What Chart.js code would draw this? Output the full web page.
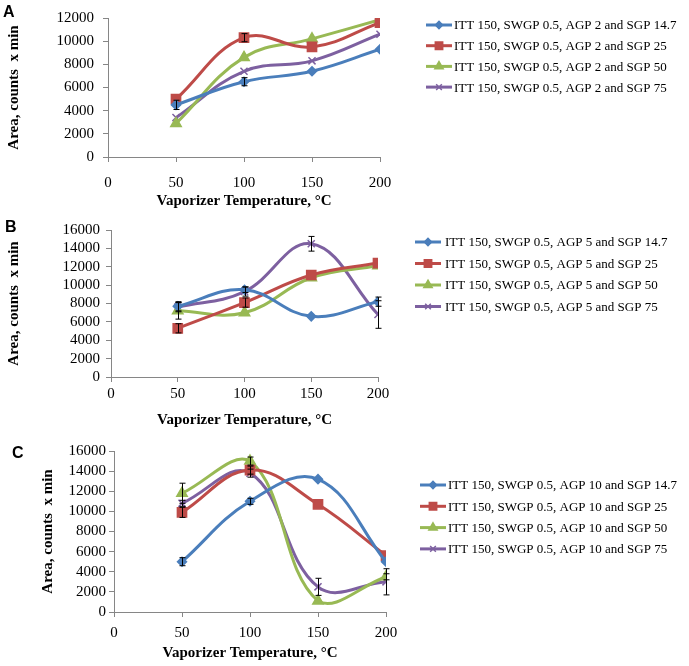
<!DOCTYPE html>
<html>
<head>
<meta charset="utf-8">
<script src="https://cdn.jsdelivr.net/npm/chart.js@4.4.1/dist/chart.umd.min.js"></script>
<style>
html, body { margin: 0; padding: 0; background: #fff; }
#wrap { position: relative; width: 689px; height: 666px; overflow: hidden; }
canvas { position: absolute; left: 0; }
</style>
</head>
<body>
<div id="wrap">
  <canvas id="cA" width="689" height="215" style="top:0px"></canvas>
  <canvas id="cB" width="689" height="215" style="top:215px"></canvas>
  <canvas id="cC" width="689" height="236" style="top:430px"></canvas>
</div>
<script>
// x values (vaporizer temperature, °C)
const temps = [50, 100, 150, 200];
const sgpLevels = ['14.7', '25', '50', '75'];

// Panel A : AGP 2
const areaA_sgp147 = [4500, 6500, 7400, 9300];
const areaA_sgp25  = [5000, 10300, 9500, 11600];
const areaA_sgp50  = [2900, 8600, 10200, 11850];
const areaA_sgp75  = [3400, 7400, 8300, 10600];
const errA_sgp147 = [400, 350, 0, 0];
const errA_sgp25  = [0, 350, 0, 0];
const errA_sgp50  = [0, 0, 0, 0];
const errA_sgp75  = [0, 0, 0, 0];

// Panel B : AGP 5
const areaB_sgp147 = [7700, 9500, 6600, 8200];
const areaB_sgp25  = [5300, 8100, 11100, 12400];
const areaB_sgp50  = [7200, 7000, 10800, 12100];
const areaB_sgp75  = [7600, 9300, 14500, 6800];
const errB_sgp147 = [500, 300, 0, 500];
const errB_sgp25  = [500, 500, 0, 0];
const errB_sgp50  = [900, 0, 0, 0];
const errB_sgp75  = [500, 500, 800, 1500];

// Panel C : AGP 10
const areaC_sgp147 = [5000, 11000, 13200, 5000];
const areaC_sgp25  = [9900, 14100, 10700, 5600];
const areaC_sgp50  = [11800, 15000, 1100, 3500];
const areaC_sgp75  = [10800, 13800, 2500, 3000];
const errC_sgp147 = [400, 300, 0, 0];
const errC_sgp25  = [500, 400, 0, 0];
const errC_sgp50  = [1000, 400, 0, 300];
const errC_sgp75  = [300, 400, 850, 1300];

const xTicks = [0, 50, 100, 150, 200];

const colors = ['#4a7ebb', '#be4b48', '#98b954', '#7d60a0'];
const markers = ['rectRot', 'rect', 'triangle', 'crossRot'];
const radii = [4.5, 6.5, 6, 5];

const serif = '"Liberation Serif", "Times New Roman", serif';

const errorBars = {
  id: 'errorBars',
  afterDatasetsDraw(chart) {
    const { ctx } = chart;
    const x = chart.scales.x, y = chart.scales.y;
    ctx.save();
    ctx.strokeStyle = '#000';
    ctx.lineWidth = 1;
    chart.data.datasets.forEach(ds => {
      ds.errors.forEach((e, i) => {
        if (!e) return;
        const p = ds.data[i];
        const px = Math.round(x.getPixelForValue(p.x)) + 0.5;
        const t = y.getPixelForValue(p.y + e);
        const b = y.getPixelForValue(p.y - e);
        ctx.beginPath();
        ctx.moveTo(px, t); ctx.lineTo(px, b);
        ctx.moveTo(px - 3, t); ctx.lineTo(px + 3, t);
        ctx.moveTo(px - 3, b); ctx.lineTo(px + 3, b);
        ctx.stroke();
      });
    });
    ctx.restore();
  }
};

const sideLegend = {
  id: 'sideLegend',
  afterDraw(chart) {
    const o = chart.options.plugins.sideLegend;
    const { ctx } = chart;
    ctx.save();
    // panel letter
    ctx.font = 'bold 16px "Liberation Sans", Arial, sans-serif';
    ctx.fillStyle = '#000';
    ctx.textBaseline = 'middle';
    ctx.textAlign = 'left';
    ctx.fillText(o.letter, o.letterX, o.letterY);
    chart.data.datasets.forEach((ds, i) => {
      const yy = o.y + i * o.gap;
      ctx.strokeStyle = ds.borderColor;
      ctx.lineWidth = 3;
      ctx.beginPath();
      ctx.moveTo(o.x, yy); ctx.lineTo(o.x + 26, yy);
      ctx.stroke();
      ctx.fillStyle = ds.borderColor;
      ctx.strokeStyle = ds.borderColor;
      ctx.lineWidth = 1.5;
      Chart.helpers.drawPoint(ctx, { pointStyle: ds.pointStyle, radius: ds.pointRadius * 0.8, rotation: 0, borderWidth: 1.5 }, o.x + 13, yy);
      ctx.fillStyle = '#000';
      ctx.font = '13px ' + serif;
      ctx.fillText(ds.label, o.textX, yy + 1);
    });
    ctx.restore();
  }
};

function makePanel(id, agp, series, errs, yMax, L) {
  const datasets = series.map((vals, i) => ({
    label: 'ITT 150, SWGP 0.5, AGP ' + agp + ' and SGP ' + sgpLevels[i],
    data: temps.map((t, k) => ({ x: t, y: vals[k] })),
    errors: errs[i],
    borderColor: colors[i],
    backgroundColor: colors[i],
    pointBackgroundColor: colors[i],
    pointBorderColor: colors[i],
    pointStyle: markers[i],
    pointRadius: radii[i],
    pointBorderWidth: 1.5,
    borderWidth: 3,
    tension: 0.4
  }));
  const canvas = document.getElementById(id);
  return new Chart(canvas.getContext('2d'), {
    type: 'line',
    data: { datasets },
    options: {
      responsive: false,
      animation: false,
      devicePixelRatio: 1,
      layout: { padding: { left: 0, top: L.top, right: 689 - L.right, bottom: L.padBottom } },
      plugins: {
        legend: { display: false },
        tooltip: { enabled: false },
        sideLegend: L.legend
      },
      scales: {
        x: {
          type: 'linear', min: 0, max: 200,
          afterBuildTicks: s => { s.ticks = xTicks.map(v => ({ value: v })); },
          afterFit: s => { s.height = L.xH; },
          ticks: { font: { family: serif, size: 15 }, color: '#000', padding: L.xPad, maxRotation: 0,
                   autoSkip: false, callback: v => String(v) },
          grid: { drawOnChartArea: false, drawTicks: true, tickLength: 5, color: '#868686' },
          border: { color: '#868686' },
          title: { display: true, text: 'Vaporizer Temperature, °C', color: '#000',
                   font: { family: serif, size: 15, weight: 'bold' }, padding: { top: 0, bottom: 0 } }
        },
        y: {
          min: 0, max: yMax,
          ticks: { stepSize: 2000, font: { family: serif, size: 15 }, color: '#000', padding: L.yPad,
                   autoSkip: false, callback: v => String(v) },
          afterFit: s => { s.width = L.left; },
          grid: { drawOnChartArea: false, drawTicks: true, tickLength: 5, color: '#868686' },
          border: { color: '#868686' },
          title: { display: true, text: 'Area, counts  x min', color: '#000',
                   font: { family: serif, size: 15, weight: 'bold' }, padding: { top: L.yTitle, bottom: 0 } }
        }
      }
    },
    plugins: [errorBars, sideLegend]
  });
}

makePanel('cA', 2,
  [areaA_sgp147, areaA_sgp25, areaA_sgp50, areaA_sgp75],
  [errA_sgp147, errA_sgp25, errA_sgp50, errA_sgp75], 12000,
  { left: 108, right: 380, top: 13, xH: 53, padBottom: 5, xPad: 12, yPad: 9, yTitle: 5,
    legend: { letter: 'A', letterX: 3, letterY: 13, x: 426, textX: 454, y: 25, gap: 20.7 } });

makePanel('cB', 5,
  [areaB_sgp147, areaB_sgp25, areaB_sgp50, areaB_sgp75],
  [errB_sgp147, errB_sgp25, errB_sgp50, errB_sgp75], 16000,
  { left: 111, right: 378, top: 10, xH: 52, padBottom: 1, xPad: 3, yPad: 6, yTitle: 5,
    legend: { letter: 'B', letterX: 5, letterY: 13, x: 415, textX: 445, y: 27, gap: 21.5 } });

makePanel('cC', 10,
  [areaC_sgp147, areaC_sgp25, areaC_sgp50, areaC_sgp75],
  [errC_sgp147, errC_sgp25, errC_sgp50, errC_sgp75], 16000,
  { left: 114, right: 386, top: 21, xH: 50, padBottom: 4, xPad: 7, yPad: 3, yTitle: 39,
    legend: { letter: 'C', letterX: 12, letterY: 24, x: 420, textX: 448, y: 55, gap: 21.3 } });
</script>
</body>
</html>
